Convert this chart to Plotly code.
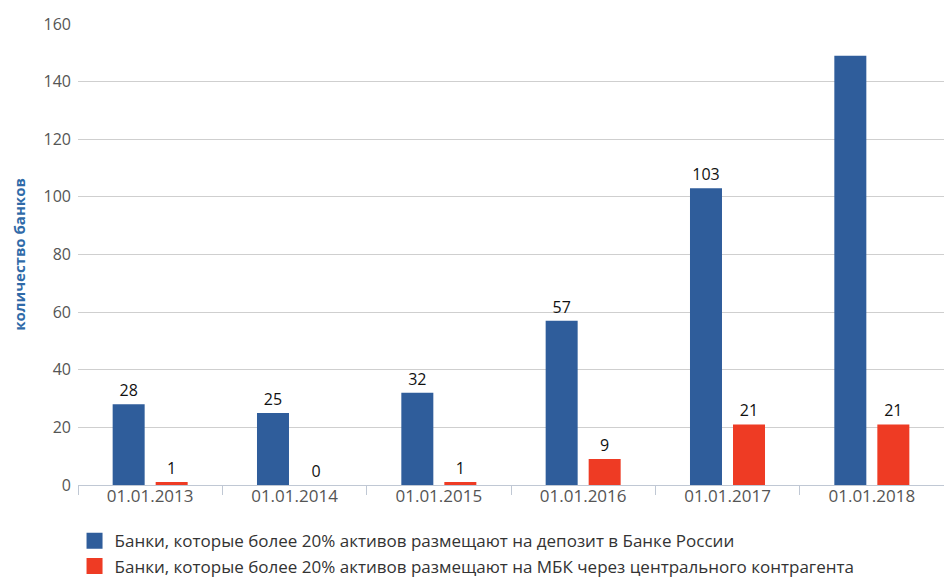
import plotly.graph_objects as go

categories = ["01.01.2013", "01.01.2014", "01.01.2015", "01.01.2016", "01.01.2017", "01.01.2018"]
deposit_values = [28, 25, 32, 57, 103, 149]
mbk_values = [1, 0, 1, 9, 21, 21]
deposit_labels = ["28", "25", "32", "57", "103", ""]
mbk_labels = ["1", "0", "1", "9", "21", "21"]
name_deposit = "Банки, которые более 20% активов размещают на депозит в Банке России"
name_mbk = "Банки, которые более 20% активов размещают на МБК через центрального контрагента"

FONT = "Open Sans"
BLUE = "#2f5d9b"
RED = "#ee3b24"

fig = go.Figure()
fig.add_trace(go.Bar(
    x=categories, y=deposit_values, name=name_deposit, showlegend=False,
    marker=dict(color=BLUE, line=dict(width=0)),
    text=deposit_labels, textposition="outside", cliponaxis=False, constraintext="none",
    textfont=dict(family=FONT, size=16, color="#111111"),
))
fig.add_trace(go.Bar(
    x=categories, y=mbk_values, name=name_mbk, showlegend=False,
    marker=dict(color=RED, line=dict(width=0)),
    text=mbk_labels, textposition="outside", cliponaxis=False, constraintext="none",
    textfont=dict(family=FONT, size=16, color="#111111"),
))
# legend entries with larger square symbols
for nm, col in [(name_deposit, BLUE), (name_mbk, RED)]:
    fig.add_trace(go.Scatter(
        x=[None], y=[None], mode="markers", name=nm, showlegend=True,
        marker=dict(symbol="square", size=16, color=col),
    ))
fig.update_layout(
    width=944, height=578,
    margin=dict(l=78, r=0, t=24, b=93, autoexpand=False),
    paper_bgcolor="white", plot_bgcolor="white",
    barmode="group", bargap=0.404, bargroupgap=0.256,
    font=dict(family=FONT, size=16, color="#555555"),
    showlegend=True,
    legend=dict(
        x=-0.004, y=-0.083,
        xanchor="left", yanchor="top", orientation="v",
        font=dict(family=FONT, size=17, color="#333333"),
        itemwidth=30, itemsizing="trace", tracegroupgap=0, bgcolor="rgba(0,0,0,0)",
    ),
)
fig.update_xaxes(
    type="category", showgrid=False, showline=True, linecolor="#c0c8d4", linewidth=1,
    ticks="outside", tickson="boundaries", ticklen=9, tickcolor="#c0c8d4",
    ticklabelstandoff=-4,
    tickfont=dict(family=FONT, size=17, color="#555555"),
)
fig.update_yaxes(
    range=[0, 160], dtick=20, showgrid=True, gridcolor="#cfcfcf", gridwidth=1,
    zeroline=False, showline=False, ticks="", ticklabelstandoff=6,
    tickfont=dict(family=FONT, size=16, color="#555555"),
    title=dict(text="<b>количество банков</b>", font=dict(family=FONT, size=15, color="#2f6aa8"), standoff=14),
)
fig.write_html("out.html", config={"displayModeBar": False},
               post_script="document.body.style.margin='0';")
